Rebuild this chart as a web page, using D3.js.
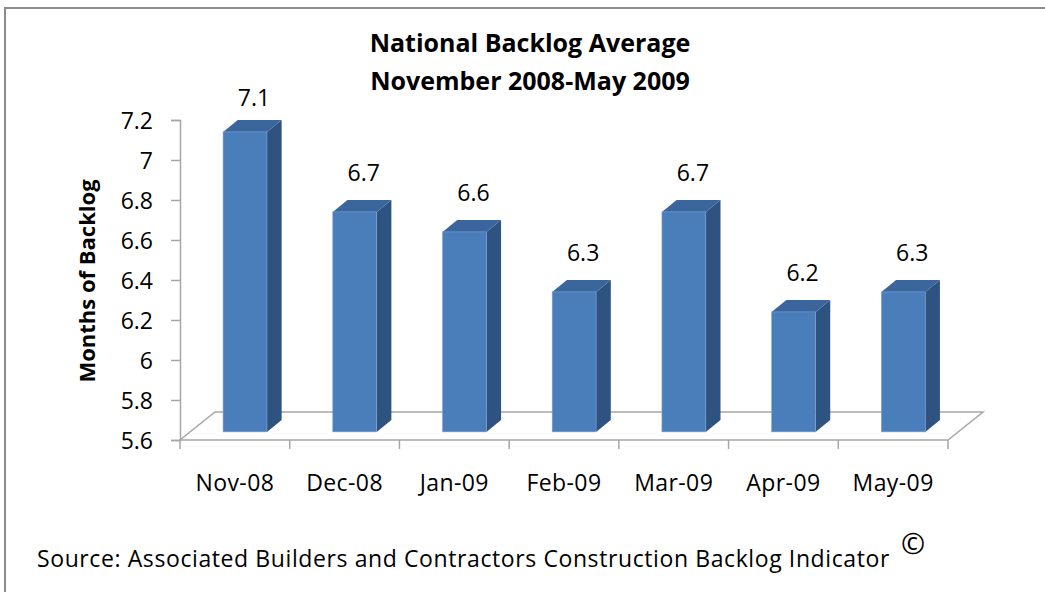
<!DOCTYPE html>
<html>
<head>
<meta charset="utf-8">
<script src="https://cdn.jsdelivr.net/npm/d3@7"></script>
<style>
  body { margin: 0; background: #fff; }
  svg text { font-family: "Open Sans", Lato, sans-serif; fill: #000; }
</style>
</head>
<body>
<svg width="1045" height="592"></svg>
<script>
//data
const months = ['Nov-08', 'Dec-08', 'Jan-09', 'Feb-09', 'Mar-09', 'Apr-09', 'May-09'];
const backlog = [7.1, 6.7, 6.6, 6.3, 6.7, 6.2, 6.3];
const yTicks = [5.6, 5.8, 6, 6.2, 6.4, 6.6, 6.8, 7, 7.2];
const titleLines = ['National Backlog Average', 'November 2008-May 2009'];

//set up
const svg = d3.select('svg');

const x = d3.scaleBand().domain(months).range([180, 948]);
const y = d3.scaleLinear().domain([5.6, 7.2]).range([440, 120]);

// floor depth (3d offset) and bar depth slice
const depth = { dx: 35, dy: -28 };
const t0 = 0.29, t1 = 0.71;
const barW = x.bandwidth() * 0.4;

//frame
svg.append('path')
  .attr('d', 'M5,592 L5,8 L1045,8')
  .attr('fill', 'none')
  .attr('stroke', '#8c8c8c')
  .attr('stroke-width', 2);

//floor
const [fx0, fx1] = x.range();
const fy = y(5.6);
svg.append('path')
  .attr('d', `M${fx0},${fy} L${fx1},${fy} L${fx1 + depth.dx},${fy + depth.dy} L${fx0 + depth.dx},${fy + depth.dy} Z`)
  .attr('fill', 'none')
  .attr('stroke', '#a6a6a6')
  .attr('stroke-width', 1.5);

//y axis
const yAxis = svg.append('g').attr('transform', `translate(${fx0},0)`)
  .call(d3.axisLeft(y).tickValues(yTicks).tickSize(9).tickPadding(18).tickFormat(d3.format('~g')));
yAxis.select('.domain').attr('stroke', '#a6a6a6').attr('stroke-width', 1.5);
yAxis.selectAll('.tick line').attr('stroke', '#a6a6a6').attr('stroke-width', 1.5);
yAxis.selectAll('.tick text').style('font-size', '23px').attr('dy', '0.35em');

//x axis
const xAxis = svg.append('g').attr('transform', `translate(0,${fy})`)
  .call(d3.axisBottom(x).tickSize(0).tickPadding(35));
xAxis.select('.domain').remove();
xAxis.selectAll('.tick text').style('font-size', '23px').style('letter-spacing', '0.4px');
xAxis.selectAll('.bound')
  .data(d3.range(months.length + 1))
  .join('line')
  .attr('x1', i => fx0 + i * x.step())
  .attr('x2', i => fx0 + i * x.step())
  .attr('y1', 0)
  .attr('y2', 9)
  .attr('stroke', '#a6a6a6')
  .attr('stroke-width', 1.5);

//bars
const bars = svg.append('g').selectAll('g')
  .data(months.map((m, i) => ({ m, v: backlog[i] })))
  .join('g');

function geo(d) {
  const cx = x(d.m) + x.bandwidth() / 2;
  const ox = depth.dx * t0, oy = depth.dy * t0;
  const bx = depth.dx * (t1 - t0), by = depth.dy * (t1 - t0);
  const left = cx - barW / 2 + ox, right = cx + barW / 2 + ox;
  const top = y(d.v) + oy, bottom = y(5.6) + oy;
  return { left, right, top, bottom, bx, by };
}

bars.append('path')
  .attr('d', d => {
    const g = geo(d);
    return `M${g.right},${g.top} L${g.right + g.bx},${g.top + g.by} L${g.right + g.bx},${g.bottom + g.by} L${g.right},${g.bottom} Z`;
  })
  .attr('fill', '#2f5380');

bars.append('path')
  .attr('d', d => {
    const g = geo(d);
    return `M${g.left},${g.top} L${g.left + g.bx},${g.top + g.by} L${g.right + g.bx},${g.top + g.by} L${g.right},${g.top} Z`;
  })
  .attr('fill', '#3b659d');

bars.append('rect')
  .attr('x', d => geo(d).left)
  .attr('y', d => geo(d).top)
  .attr('width', barW)
  .attr('height', d => geo(d).bottom - geo(d).top)
  .attr('fill', '#4a7ebb')
  .attr('stroke', '#7ea3d3')
  .attr('stroke-width', 0.6);

//value labels
bars.append('text')
  .attr('x', d => (geo(d).left + geo(d).right) / 2 + 9)
  .attr('y', d => Math.max(geo(d).top - 31, 106))
  .attr('text-anchor', 'middle')
  .style('font-size', '23px')
  .text(d => d3.format('.1f')(d.v));

//title
svg.append('text')
  .attr('x', 530)
  .attr('text-anchor', 'middle')
  .style('font-size', '25px')
  .style('font-weight', 'bold')
  .selectAll('tspan')
  .data(titleLines)
  .join('tspan')
  .attr('x', 530)
  .attr('y', (d, i) => 52 + i * 38)
  .text(d => d);

//y label
svg.append('text')
  .attr('transform', 'translate(95,281) rotate(-90)')
  .attr('text-anchor', 'middle')
  .style('font-size', '22px')
  .style('font-weight', 'bold')
  .text('Months of Backlog');

//source
svg.append('text')
  .attr('x', 37)
  .attr('y', 567)
  .style('font-size', '23px')
  .style('letter-spacing', '0.6px')
  .text('Source: Associated Builders and Contractors Construction Backlog Indicator');
svg.append('text')
  .attr('x', 901)
  .attr('y', 554)
  .style('font-size', '29px')
  .text('©');
</script>
</body>
</html>
